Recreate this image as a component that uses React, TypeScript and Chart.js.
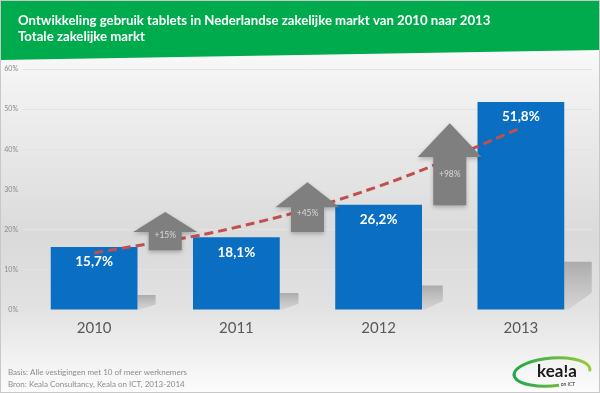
import React, { useEffect, useRef } from "react";
import { Chart, registerables } from "chart.js";

Chart.register(...registerables);

const categories = ["2010", "2011", "2012", "2013"];
const usage = [15.7, 18.1, 26.2, 51.8];
const usageLabels = ["15,7%", "18,1%", "26,2%", "51,8%"];
const trend = [14.2, 20.6, 30.8, 45.3];
const growthLabels = ["+15%", "+45%", "+98%"];
const arrowBase = [14.9, 19.4, 26.1];
const arrowNeck = [19.4, 25.6, 38.1];
const arrowTip = [24.4, 31.8, 46.5];
const titleLines = [
  "Ontwikkeling gebruik tablets in Nederlandse zakelijke markt van 2010 naar 2013",
  "Totale zakelijke markt",
];
const footnotes = [
  "Basis: Alle vestigingen met 10 of meer werknemers",
  "Bron: Keala Consultancy, Keala on ICT, 2013-2014",
];

const decor = {
  id: "decor",
  beforeDraw(chart: any) {
    const { ctx, width, height } = chart;
    ctx.save();
    const g = ctx.createLinearGradient(0, 50, 0, height);
    g.addColorStop(0, "#f9f9f9");
    g.addColorStop(0.12, "#f1f1f1");
    g.addColorStop(0.55, "#dadada");
    g.addColorStop(0.75, "#e2e2e2");
    g.addColorStop(1, "#fcfcfc");
    ctx.fillStyle = g;
    ctx.fillRect(0, 0, width, height);
    ctx.fillStyle = "#00ab4e";
    ctx.beginPath();
    ctx.moveTo(0, 0);
    ctx.lineTo(width, 0);
    ctx.lineTo(width, 50);
    ctx.lineTo(0, 60);
    ctx.closePath();
    ctx.fill();
    ctx.fillStyle = "#ffffff";
    ctx.font = "bold 13.2px Lato";
    ctx.textBaseline = "middle";
    ctx.textAlign = "left";
    titleLines.forEach((t, i) => ctx.fillText(t, 18, 21 + i * 16));
    ctx.restore();
  },
  beforeDatasetsDraw(chart: any) {
    const { ctx } = chart;
    const meta = chart.getDatasetMeta(0);
    ctx.save();
    meta.data.forEach((bar: any) => {
      const right = bar.x + bar.width / 2;
      const bottom = bar.base;
      const bh = bottom - bar.y;
      const h = bh * 0.23;
      const w = 14 + bh * 0.065;
      const g = ctx.createLinearGradient(0, bottom - h, 0, bottom);
      g.addColorStop(0, "rgba(150,150,150,0.7)");
      g.addColorStop(1, "rgba(170,170,170,0.25)");
      ctx.fillStyle = g;
      ctx.beginPath();
      ctx.moveTo(right, bottom - h);
      ctx.lineTo(right + w, bottom - h);
      ctx.lineTo(right + w, bottom - h * 0.35);
      ctx.lineTo(right + w * 0.15, bottom);
      ctx.lineTo(right, bottom);
      ctx.closePath();
      ctx.fill();
    });
    ctx.restore();
  },
  afterDatasetsDraw(chart: any) {
    const { ctx } = chart;
    const xs = chart.scales.x;
    const ys = chart.scales.y;
    ctx.save();
    growthLabels.forEach((lab, i) => {
      const cx = (xs.getPixelForValue(i) + xs.getPixelForValue(i + 1)) / 2;
      const yb = ys.getPixelForValue(arrowBase[i]);
      const yn = ys.getPixelForValue(arrowNeck[i]);
      const yt = ys.getPixelForValue(arrowTip[i]);
      ctx.save();
      ctx.shadowColor = "rgba(0,0,0,0.25)";
      ctx.shadowBlur = 4;
      ctx.shadowOffsetY = 2;
      ctx.fillStyle = "#7f7f7f";
      ctx.beginPath();
      ctx.moveTo(cx, yt);
      ctx.lineTo(cx + 32, yn);
      ctx.lineTo(cx + 16.5, yn);
      ctx.lineTo(cx + 16.5, yb);
      ctx.lineTo(cx - 16.5, yb);
      ctx.lineTo(cx - 16.5, yn);
      ctx.lineTo(cx - 32, yn);
      ctx.closePath();
      ctx.fill();
      ctx.restore();
      ctx.fillStyle = "#d9d9d9";
      ctx.font = "8.5px Lato";
      ctx.textAlign = "center";
      ctx.textBaseline = "middle";
      ctx.fillText(lab, cx, yt + (yb - yt) * 0.62);
    });
    const meta = chart.getDatasetMeta(0);
    ctx.fillStyle = "#ffffff";
    ctx.font = "bold 13.5px Lato";
    ctx.textAlign = "center";
    ctx.textBaseline = "middle";
    meta.data.forEach((bar: any, i: number) => {
      ctx.fillText(usageLabels[i], bar.x, bar.y + 15);
    });
    ctx.restore();
  },
  afterDraw(chart: any) {
    const { ctx, width, height } = chart;
    ctx.save();
    ctx.fillStyle = "#8c8c8c";
    ctx.font = "8px Lato";
    ctx.textAlign = "left";
    ctx.textBaseline = "middle";
    footnotes.forEach((t, i) => ctx.fillText(t, 8, 372 + i * 12));
    const lx = 552, ly = 372;
    const lg = ctx.createLinearGradient(lx - 40, 0, lx + 40, 0);
    lg.addColorStop(0, "#1fa64a");
    lg.addColorStop(1, "#9ccb3b");
    ctx.strokeStyle = lg;
    ctx.lineWidth = 3;
    ctx.beginPath();
    ctx.ellipse(lx, ly, 38, 14, -0.08, 0.45 * Math.PI, 2.05 * Math.PI);
    ctx.stroke();
    ctx.fillStyle = "#1a1a1a";
    ctx.font = "bold 17px Lato";
    ctx.textAlign = "center";
    ctx.fillText("kea!a", lx + 5, ly);
    ctx.font = "5px Lato";
    ctx.fillText("on ICT", lx + 16, ly + 12);
    ctx.strokeStyle = "#c8c8c8";
    ctx.lineWidth = 1;
    ctx.strokeRect(0.5, 0.5, width - 1, height - 1);
    ctx.restore();
  },
};

export default function App() {
  const ref = useRef<HTMLCanvasElement>(null);
  useEffect(() => {
    if (!ref.current) return;
    const chart = new Chart(ref.current, {
      type: "bar",
      data: {
        labels: categories,
        datasets: [
          {
            type: "bar",
            data: usage,
            backgroundColor: "#0a6fc2",
            barPercentage: 0.61,
            categoryPercentage: 1,
            order: 1,
          },
          {
            type: "line",
            data: trend,
            borderColor: "#c0504d",
            borderWidth: 3,
            borderDash: [9, 5],
            pointRadius: 0,
            tension: 0.4,
            fill: false,
            order: 0,
          } as any,
        ],
      },
      options: {
        responsive: false,
        animation: false,
        layout: { padding: { top: 69, right: 8, left: 0, bottom: 0 } },
        plugins: { legend: { display: false }, tooltip: { enabled: false } },
        scales: {
          x: {
            grid: { display: false, drawTicks: false },
            border: { display: false },
            ticks: { color: "#595959", font: { family: "Lato", size: 15 }, padding: 9 },
            afterFit: (s: any) => { s.height = 83; },
          },
          y: {
            min: 0,
            max: 60,
            grid: { color: "#e3e3e3", drawTicks: false },
            border: { display: false },
            ticks: {
              stepSize: 10,
              color: "#8a8a8a",
              font: { family: "Lato", size: 7 },
              padding: 5,
              callback: (v: any) => v + "%",
            },
            afterFit: (s: any) => { s.width = 23; },
          },
        },
      },
      plugins: [decor],
    });
    return () => chart.destroy();
  }, []);
  return (
    <div style={{ position: "fixed", left: 0, top: 0, width: 600, height: 393 }}>
      <canvas ref={ref} width={600} height={393} />
    </div>
  );
}
